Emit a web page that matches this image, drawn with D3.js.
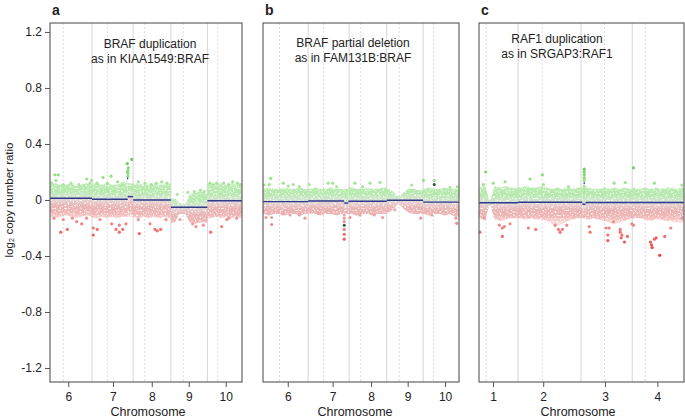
<!DOCTYPE html>
<html><head><meta charset="utf-8">
<script src="https://cdn.jsdelivr.net/npm/d3@7"></script>
<style>body{margin:0;background:#fff} text{font-family:"Liberation Sans",Arial,sans-serif;fill:#222}</style>
</head><body><svg id="c" width="685" height="419"></svg>
<script>
// ---------- data ----------
const yTicks = [-1.2, -0.8, -0.4, 0, 0.4, 0.8, 1.2];
const yDomain = [-1.3, 1.264];

// chromosome layout (Mb, cumulative)
const chromAB = ["6", "7", "8", "9", "10"];
const chromStartAB = [0, 171, 330, 476, 617];
const centroAB = [60, 230, 375, 524, 657];
const chromC = ["1", "2", "3", "4"];
const chromStartC = [0, 249, 492, 690];
const centroC = [125, 342, 583, 740];

const tickPosA = [79, 252, 402, 545, 688];
const tickPosB = [92, 266, 415, 557, 702];
const tickPosC = [152, 346, 585, 787];

const xDomainA = [8.5, 751];
const xDomainB = [-4, 756];
const xDomainC = [98, 890];

const titlesA = ["BRAF duplication", "as in KIAA1549:BRAF"];
const titlesB = ["BRAF partial deletion", "as in FAM131B:BRAF"];
const titlesC = ["RAF1 duplication", "as in SRGAP3:RAF1"];

// segments [start, end, log2 ratio]
const segsA = [[8.5,171,0.012],[171,309,0.005],[309,330,0.024],[330,476,0.0],[476,617,-0.052],[617,751,-0.005]];
const focalA = [[306,311,0.155]];
const segsB = [[-4,171,-0.012],[171,311,-0.007],[311,327,-0.022],[327,476,-0.009],[476,617,-0.002],[617,756,-0.015]];
const focalB = [[309,313,-0.18]];
const segsC = [[98,249,-0.02],[249,497,-0.016],[497,510,-0.03],[510,890,-0.018]];
const focalC = [[502,507,0.12]];

// dense-band envelope (bin centre Mb, upper / lower log2 ratio)
const binPosA = [10,30,50,70,90,110,130,150,170,190,210,230,250,270,290,310,330,350,370,390,410,430,450,470,490,510,530,550,570,590,610,630,650,670,690,710,730,750];
const upperA = [0.11,0.12,0.11,0.11,0.12,0.10,0.11,0.12,0.11, 0.12,0.11,0.12,0.11,0.11,0.13,0.12, 0.11,0.12,0.11,0.11,0.12,0.11,0.11,0.12, 0.01,-0.02,-0.03,0.04,0.05,0.06,0.05, 0.12,0.11,0.12,0.11,0.12,0.11,0.12];
const lowerA = [-0.12,-0.13,-0.12,-0.11,-0.12,-0.13,-0.12,-0.11,-0.12, -0.13,-0.12,-0.13,-0.12,-0.13,-0.12,-0.12, -0.12,-0.13,-0.12,-0.13,-0.12,-0.13,-0.12,-0.13, -0.16,-0.10,-0.10,-0.16,-0.17,-0.16,-0.16, -0.13,-0.12,-0.13,-0.12,-0.13,-0.12,-0.13];

const binPosB = [0,20,40,60,80,100,120,140,160,180,200,220,240,260,280,300,320,340,360,380,400,420,440,460,480,500,520,540,560,580,600,620,640,660,680,700,720,740];
const upperB = [0.08,0.09,0.08,0.08,0.09,0.08,0.08,0.09,0.08, 0.08,0.09,0.08,0.08,0.09,0.08,0.08,0.08, 0.09,0.08,0.08,0.09,0.08,0.08,0.09, 0.08,0.06,0.03,0.05,0.08,0.08,0.07, 0.08,0.09,0.08,0.08,0.09,0.08,0.08];
const lowerB = [-0.10,-0.11,-0.10,-0.10,-0.11,-0.10,-0.10,-0.11,-0.10, -0.10,-0.10,-0.11,-0.10,-0.10,-0.11,-0.10,-0.10, -0.10,-0.11,-0.10,-0.10,-0.11,-0.10,-0.10, -0.09,-0.07,-0.03,-0.06,-0.09,-0.10,-0.10, -0.10,-0.11,-0.10,-0.10,-0.11,-0.10,-0.12];

const binPosC = [100,120,140,160,180,200,220,240,260,280,300,320,340,360,380,400,420,440,460,480,500,520,540,560,580,600,620,640,660,680,700,720,740,760,780,800,820,840,860,880];
const upperC = [0.09,0.10,0.0,0.10,0.09,0.10,0.09,0.09,0.09,0.10,0.09,0.09,0.10,0.09,0.08,0.09,0.08,0.09,0.08,0.09,0.09,0.09,0.08,0.08,0.09,0.08,0.09,0.08,0.09,0.08,0.09,0.08,0.09,0.08,0.09,0.08,0.09,0.09,0.08,0.09];
const lowerC = [-0.13,-0.14,-0.04,-0.14,-0.15,-0.14,-0.13,-0.13,-0.13,-0.14,-0.13,-0.14,-0.14,-0.15,-0.17,-0.18,-0.17,-0.15,-0.14,-0.13,-0.13,-0.14,-0.13,-0.14,-0.15,-0.16,-0.17,-0.16,-0.15,-0.14,-0.13,-0.13,-0.14,-0.15,-0.14,-0.14,-0.15,-0.15,-0.16,-0.16];

// individual probes outside the dense band [Mb, log2 ratio]
const pointsA = [[27.8,0.18],[40.6,0.18],[31.7,0.14],[15.1,0.12],[150.4,0.15],[169.8,0.14],[163.2,0.12],[213.5,0.16],[244.4,0.17],[270.3,0.13],
 [307.4,0.26],[324.4,0.29],[311.3,0.23],[310,0.21],[310,0.19],[310,0.17],[308,0.2],[350,0.13],[375.9,0.12],[440.4,0.13],[461,0.12],[566.5,0.06],[541,0.055],
 [627,0.12],[653,0.12],[715,0.13],[733,0.12],[60,0.11],[90,0.12],[120,0.11],[190,0.12],[230,0.12],[290,0.11],[400,0.11],[420,0.12],[500,0.04],[590,0.07],[605,0.06],
 [640,0.11],[680,0.12],[700,0.11],[745,0.11],
 [49.9,-0.23],[75.4,-0.21],[24,-0.13],[60,-0.14],[111.8,-0.155],[131.1,-0.17],[176,-0.2],[176,-0.25],[191.4,-0.21],[201.9,-0.14],[247,-0.17],[263.7,-0.21],
 [276.5,-0.23],[289.6,-0.21],[276.5,-0.18],[302.4,-0.17],[353.8,-0.24],[395.2,-0.17],[414.5,-0.21],[423.4,-0.22],[436.6,-0.21],[457,-0.14],[511.2,-0.14],
 [573,-0.19],[601.3,-0.18],[630,-0.23],[672.5,-0.19],[691.8,-0.14],[730.5,-0.13],[95,-0.13],[150,-0.13],[350,-0.14],[560,-0.17],[700,-0.13]];
const pointsB = [[25.9,0.155],[20.4,0.11],[74.7,0.12],[94.1,0.1],[113.5,0.11],[136.7,0.095],[175.5,0.11],[249.2,0.12],[266.2,0.12],[281.7,0.095],[352.7,0.12],
 [382.5,0.095],[410.8,0.12],[449.6,0.125],[572.5,0.107],[617.5,0.14],[660.1,0.14],[721,0.09],[749.3,0.095],[0,0.107],
 [7.6,-0.125],[29.7,-0.125],[29.7,-0.175],[72.4,-0.1],[100.7,-0.107],[136.7,-0.107],[158.8,-0.13],[210.4,-0.095],[243,-0.083],[333.3,-0.125],[372.1,-0.107],
 [427.5,-0.107],[460,-0.125],[507.8,-0.07],[607.4,-0.13],[650,-0.107],[747,-0.167],[744.3,-0.13],
 [311,-0.107],[311,-0.13],[311,-0.155],[311,-0.21],[311,-0.245],[311,-0.28]];
const darkPointsB = [[660.1,0.11],[311,-0.18]];
const pointsC = [[123.9,0.2],[114.6,0.11],[153.3,0.12],[198.6,0.13],[295.3,0.15],[342.8,0.18],[346.7,0.11],[443.4,0.095],[620.2,0.12],[662.7,0.125],
 [694.8,0.23],[775.9,0.12],[881.3,0.107],
 [504.6,0.22],[504.6,0.2],[504.6,0.18],[504.6,0.16],[504.6,0.14],[504.6,0.1],[504.6,0.08],[504.6,0.06],
 [101.9,-0.23],[118.5,-0.13],[176.5,-0.18],[188.1,-0.2],[195.9,-0.19],[188.1,-0.26],[217.9,-0.17],[288.7,-0.2],[317.3,-0.21],[392,-0.18],[404.7,-0.21],
 [411.3,-0.23],[420.2,-0.21],[437.2,-0.18],[527.4,-0.23],[523.5,-0.19],[589.2,-0.2],[595.8,-0.25],[595.8,-0.29],[600.8,-0.2],[617.5,-0.155],[643.4,-0.23],
 [647.3,-0.27],[643.4,-0.21],[671.6,-0.26],[688.7,-0.17],[694.8,-0.18],[760.4,-0.3],[764.3,-0.32],[767,-0.34],[775.9,-0.28],[782.5,-0.27],[796.2,-0.395],
 [815.6,-0.26],[838.8,-0.2],[881.3,-0.13],[650,-0.25],[660,-0.3]];
const darkPointsC = [];

// ---------- drawing ----------
const svg = d3.select("#c");
const TOP = 23, BOTTOM = 382;
const y = d3.scaleLinear().domain(yDomain).range([BOTTOM, TOP]);
const color = d3.scaleLinear()
  .domain([-0.35,-0.22,-0.12,-0.04,0,0.04,0.12,0.2,0.3])
  .range(["#f03a3a","#f27070","#eb9a9a","#dcc0c0","#cccccc","#c4e4bf","#a6e598","#86da74","#55c845"])
  .clamp(true);
const defs = svg.append("defs");

// grain filter so the dense band reads as many small probes
const flt = defs.append("filter").attr("id","grain").attr("x",0).attr("y",0).attr("width",1).attr("height",1)
  .attr("filterUnits","objectBoundingBox");
flt.append("feTurbulence").attr("type","fractalNoise").attr("baseFrequency","0.6").attr("numOctaves",1).attr("seed",7).attr("result","n");
flt.append("feColorMatrix").attr("in","n").attr("type","matrix")
  .attr("values","0 0 0 0 0  0 0 0 0 0  0 0 0 0 0  5 0 0 0 -1.25").attr("result","m");
flt.append("feComposite").attr("in","SourceGraphic").attr("in2","m").attr("operator","in");

const panels = [
  {id:"a", left:50, right:242, xDomain:xDomainA, starts:chromStartAB, centro:centroAB, chrom:chromAB, ticks:tickPosA, titles:titlesA, tx:150, ty:48,
   segs:segsA, focal:focalA, binPos:binPosA, upper:upperA, lower:lowerA, points:pointsA, dark:[], yaxis:true, xc:148},
  {id:"b", left:263, right:459, xDomain:xDomainB, starts:chromStartAB, centro:centroAB, chrom:chromAB, ticks:tickPosB, titles:titlesB, tx:353, ty:47,
   segs:segsB, focal:focalB, binPos:binPosB, upper:upperB, lower:lowerB, points:pointsB, dark:darkPointsB, yaxis:false, xc:355},
  {id:"c", left:479, right:684, xDomain:xDomainC, starts:chromStartC, centro:centroC, chrom:chromC, ticks:tickPosC, titles:titlesC, tx:557, ty:43,
   segs:segsC, focal:focalC, binPos:binPosC, upper:upperC, lower:lowerC, points:pointsC, dark:darkPointsC, yaxis:false, xc:578}
];

panels.forEach(p => {
  const x = d3.scaleLinear().domain(p.xDomain).range([p.left, p.right]);
  const g = svg.append("g");
  defs.append("clipPath").attr("id","clip"+p.id).append("rect")
    .attr("x",p.left).attr("y",TOP).attr("width",p.right-p.left).attr("height",BOTTOM-TOP);
  const plot = g.append("g").attr("clip-path",`url(#clip${p.id})`);

  // chromosome boundaries and centromeres
  plot.selectAll(".bd").data(p.starts.slice(1)).join("line")
    .attr("x1",d=>x(d)).attr("x2",d=>x(d)).attr("y1",TOP).attr("y2",BOTTOM)
    .attr("stroke","#d6d6d6").attr("stroke-width",1);
  plot.selectAll(".cn").data(p.centro).join("line")
    .attr("x1",d=>x(d)).attr("x2",d=>x(d)).attr("y1",TOP).attr("y2",BOTTOM)
    .attr("stroke","#d2d2d2").attr("stroke-width",0.8).attr("stroke-dasharray","2,2");

  // dense band per segment
  const band = plot.append("g").attr("filter","url(#grain)");
  const bins = p.binPos.map((pos,k)=>({pos, hi:p.upper[k], lo:p.lower[k]}));
  const area = d3.area().x(d=>x(d.pos)).y0(d=>y(d.lo)).y1(d=>y(d.hi)).curve(d3.curveMonotoneX);
  p.segs.forEach((s,i) => {
    const [a,b,v] = s;
    const inb = bins.filter(d=>d.pos>=a && d.pos<b);
    if (!inb.length) return;
    const pts = [{pos:a, hi:inb[0].hi, lo:inb[0].lo}, ...inb, {pos:b, hi:inb[inb.length-1].hi, lo:inb[inb.length-1].lo}];
    const gid = `grad${p.id}${i}`;
    const gr = defs.append("linearGradient").attr("id",gid).attr("gradientUnits","userSpaceOnUse")
      .attr("x1",0).attr("x2",0).attr("y1",y(v+0.14)).attr("y2",y(v-0.14));
    [[0,"#9ee090",0.35],[0.14,"#a6e59a",0.75],[0.3,"#b2e8a8",0.95],[0.44,"#cfe6cb",1],[0.5,"#d4d4d4",1],[0.56,"#e8cfcf",1],[0.7,"#e8b0b0",0.95],[0.86,"#eca0a0",0.75],[1,"#ee9090",0.35]]
      .forEach(([o,c,op]) => gr.append("stop").attr("offset",o).attr("stop-color",c).attr("stop-opacity",op));
    band.append("path").datum(pts).attr("d",area).attr("fill",`url(#${gid})`);
  });

  // individual probes
  const segVal = pos => { const s = p.segs.find(s=>pos>=s[0] && pos<s[1]); return s ? s[2] : 0; };
  plot.selectAll(".pt").data(p.points).join("circle")
    .attr("cx",d=>x(d[0])).attr("cy",d=>y(d[1])).attr("r",1.6)
    .attr("fill",d=>color(d[1]-segVal(d[0])));

  // segments
  plot.selectAll(".sg").data(p.segs).join("line")
    .attr("x1",d=>x(d[0])).attr("x2",d=>x(d[1])).attr("y1",d=>y(d[2])).attr("y2",d=>y(d[2]))
    .attr("stroke","#2f3a88").attr("stroke-width",1.4);
  plot.selectAll(".fc").data(p.focal).join("line")
    .attr("x1",d=>x(d[0])).attr("x2",d=>x(d[1])).attr("y1",d=>y(d[2])).attr("y2",d=>y(d[2]))
    .attr("stroke","#2f3a88").attr("stroke-width",1.8);
  plot.selectAll(".dk").data(p.dark).join("circle")
    .attr("cx",d=>x(d[0])).attr("cy",d=>y(d[1])).attr("r",1.5).attr("fill","#2b5a3a");

  // frame
  g.append("rect").attr("x",p.left).attr("y",TOP).attr("width",p.right-p.left).attr("height",BOTTOM-TOP)
    .attr("fill","none").attr("stroke","#555").attr("stroke-width",1.1);

  // x axis
  const xa = g.append("g").attr("transform",`translate(0,${BOTTOM})`)
    .call(d3.axisBottom(x).tickValues(p.ticks).tickFormat((d,i)=>p.chrom[i]).tickSize(5).tickSizeOuter(0));
  xa.select(".domain").remove();
  xa.selectAll("line").attr("stroke","#555");
  xa.selectAll("text").attr("font-size",12).attr("fill","#222").attr("dy","0.95em").style("font-family","'Liberation Sans',Arial,sans-serif");
  g.append("text").attr("x",p.xc).attr("y",416).attr("text-anchor","middle").attr("font-size",12.5).text("Chromosome");

  // y axis
  if (p.yaxis) {
    const ya = g.append("g").attr("transform",`translate(${p.left},0)`)
      .call(d3.axisLeft(y).tickValues(yTicks).tickFormat(d=>d===0?"0":String(d)).tickSize(5).tickSizeOuter(0));
    ya.select(".domain").remove();
    ya.selectAll("line").attr("stroke","#555");
    ya.selectAll("text").attr("font-size",12).attr("fill","#222").style("font-family","'Liberation Sans',Arial,sans-serif");
  }

  // annotation
  p.titles.forEach((t,i)=> g.append("text").attr("x",p.tx).attr("y",p.ty+i*14.5).attr("text-anchor","middle").attr("font-size",12).text(t));
  // panel letter
  g.append("text").attr("x",p.left+2).attr("y",15).attr("font-size",14).attr("font-weight","bold").text(p.id);
});

svg.append("text").attr("transform","translate(13,200) rotate(-90)").attr("text-anchor","middle").attr("font-size",11.5)
  .text("log₂ copy number ratio");
</script></body></html>
